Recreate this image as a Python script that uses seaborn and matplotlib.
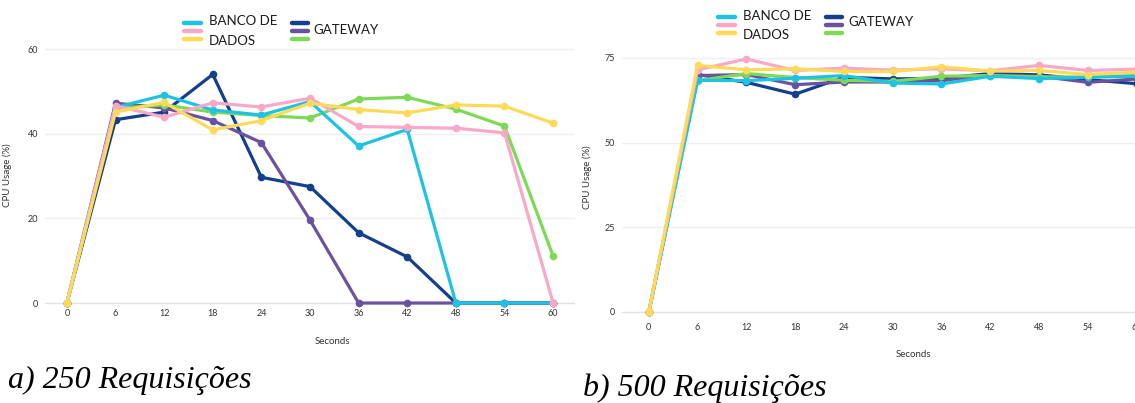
import matplotlib
matplotlib.use("Agg")
import matplotlib.pyplot as plt
from matplotlib.lines import Line2D
import pandas as pd
import seaborn as sns

seconds = [0, 6, 12, 18, 24, 30, 36, 42, 48, 54, 60]
tick_labels = ["0", "6", "12", "18", "24", "30", "36", "42", "48", "54", "60"]

# a) 250 requisicoes -- banco de dados (3 instancias) e gateway (3 instancias)
a_bd1 = [0, 46.2, 49.1, 45.6, 44.4, 47.6, 37.1, 41.0, 0, 0, 0]
a_bd2 = [0, 46.6, 43.9, 47.3, 46.3, 48.4, 41.7, 41.5, 41.3, 40.2, 0]
a_bd3 = [0, 45.1, 47.4, 40.9, 43.1, 47.2, 45.7, 44.9, 46.8, 46.5, 42.5]
a_gw1 = [0, 43.3, 45.1, 54.0, 29.7, 27.5, 16.6, 10.9, 0, 0, 0]
a_gw2 = [0, 47.2, 46.1, 43.1, 37.9, 19.6, 0, 0, 0, 0, 0]
a_gw3 = [0, 46.0, 46.8, 45.1, 44.3, 43.7, 48.2, 48.6, 45.8, 41.8, 11.1]

# b) 500 requisicoes
b_bd1 = [0, 68.4, 68.3, 69.0, 69.8, 67.6, 67.3, 69.6, 68.9, 69.3, 69.6]
b_bd2 = [0, 71.5, 74.7, 71.3, 72.0, 71.4, 71.8, 71.2, 72.8, 71.3, 71.7]
b_bd3 = [0, 72.8, 71.5, 71.8, 71.0, 71.0, 72.4, 71.1, 71.3, 70.1, 70.8]
b_gw1 = [0, 70.1, 67.8, 64.3, 69.3, 68.8, 69.0, 70.4, 70.0, 68.6, 67.4]
b_gw2 = [0, 69.8, 70.1, 67.1, 67.9, 67.9, 68.3, 70.0, 69.6, 67.8, 68.8]
b_gw3 = [0, 68.3, 70.4, 69.2, 68.4, 68.1, 69.6, 69.8, 69.4, 69.4, 69.8]

colors = {"BD1": "#1ec3e3", "BD2": "#f9a8c9", "BD3": "#fdda57",
          "GW1": "#143f8c", "GW2": "#6b52a0", "GW3": "#7ed957"}
draw_order = ["GW1", "GW2", "GW3", "BD1", "BD2", "BD3"]
legend_order = ["BD1", "BD2", "BD3", "GW1", "GW2", "GW3"]


def long_df(series):
    rows = []
    for name, vals in series.items():
        for s, v in zip(seconds, vals):
            rows.append({"Seconds": s, "CPU": v, "serie": name})
    return pd.DataFrame(rows)


df_a = long_df({"BD1": a_bd1, "BD2": a_bd2, "BD3": a_bd3,
                "GW1": a_gw1, "GW2": a_gw2, "GW3": a_gw3})
df_b = long_df({"BD1": b_bd1, "BD2": b_bd2, "BD3": b_bd3,
                "GW1": b_gw1, "GW2": b_gw2, "GW3": b_gw3})

sns.set_theme(style="white")
plt.rcParams["font.family"] = ["Lato", "DejaVu Sans"]

W, H = 1135, 403
fig = plt.figure(figsize=(W / 100, H / 100), dpi=100)


def px(x0, y0, x1, y1):
    return [x0 / W, 1 - y1 / H, (x1 - x0) / W, (y1 - y0) / H]


ax_a = fig.add_axes(px(45, 45, 575, 306))
ax_b = fig.add_axes(px(622, 40, 1200, 315))


def draw(ax, df, yticks, xlim, ylim, xpad, ylab_x, xlab_xy):
    sns.lineplot(data=df, x="Seconds", y="CPU", hue="serie", hue_order=draw_order,
                 palette=colors, marker="o", markersize=5.5, markeredgewidth=0,
                 linewidth=2.3, errorbar=None, legend=False, ax=ax, clip_on=False)
    ax.set_xlim(*xlim)
    ax.set_ylim(*ylim)
    ax.set_xticks(seconds)
    ax.set_xticklabels(tick_labels)
    ax.set_yticks(yticks)
    for sp in ax.spines.values():
        sp.set_visible(False)
    ax.yaxis.grid(True, color="#efefef", linewidth=1)
    ax.set_axisbelow(True)
    ax.get_ygridlines()[0].set_color("#e2e2e2")
    ax.tick_params(axis="both", length=0, labelsize=6.5, labelcolor="#333333")
    ax.tick_params(axis="x", pad=xpad)
    ax.tick_params(axis="y", pad=5)
    ax.set_ylabel("CPU Usage (%)", fontsize=7, color="#333333")
    ax.set_xlabel("Seconds", fontsize=7, color="#333333")
    ax.yaxis.set_label_coords(ylab_x, 0.5)
    ax.xaxis.set_label_coords(*xlab_xy)


draw(ax_a, df_a, [0, 20, 40, 60], (-2.7, 62.7), (-0.7, 60.95), 2.5, -0.062, (0.543, -0.119))
draw(ax_b, df_b, [0, 25, 50, 75], (-3.3, 67.8), (-0.9, 80.3), 6.0, -0.052, (0.505, -0.127))


def legend_box(ax, anchor):
    handles = [Line2D([], [], color=colors[k], linewidth=3.2) for k in legend_order]
    leg = ax.legend(handles, [""] * 6, ncol=2, loc="upper left",
                    bbox_to_anchor=anchor, bbox_transform=fig.transFigure,
                    fontsize=6, handlelength=2.0, handletextpad=10.7,
                    columnspacing=0.2, labelspacing=0.1, borderpad=0.5,
                    frameon=True, fancybox=False, framealpha=1)
    leg.get_frame().set_facecolor("white")
    leg.get_frame().set_edgecolor("white")
    return leg


legend_box(ax_a, (176 / W, 1 - 12 / H))
legend_box(ax_b, (710 / W, 1 - 6 / H))

lfont = dict(fontsize=9.5, color="#1a1a1a", family=["Lato", "DejaVu Sans"], va="center")
fig.text(209 / W, 1 - 21 / H, "BANCO DE", **lfont)
fig.text(209 / W, 1 - 41 / H, "DADOS", **lfont)
fig.text(313 / W, 1 - 30 / H, "GATEWAY", **lfont)
fig.text(743 / W, 1 - 16 / H, "BANCO DE", **lfont)
fig.text(743 / W, 1 - 35 / H, "DADOS", **lfont)
fig.text(848 / W, 1 - 22 / H, "GATEWAY", **lfont)

cfont = dict(fontsize=23, style="italic", family=["Liberation Serif"], color="black", va="center")
fig.text(8 / W, 1 - 380 / H, "a) 250 Requisições", **cfont)
fig.text(583 / W, 1 - 388 / H, "b) 500 Requisições", **cfont)

fig.savefig("out.png", dpi=100, facecolor="white")
